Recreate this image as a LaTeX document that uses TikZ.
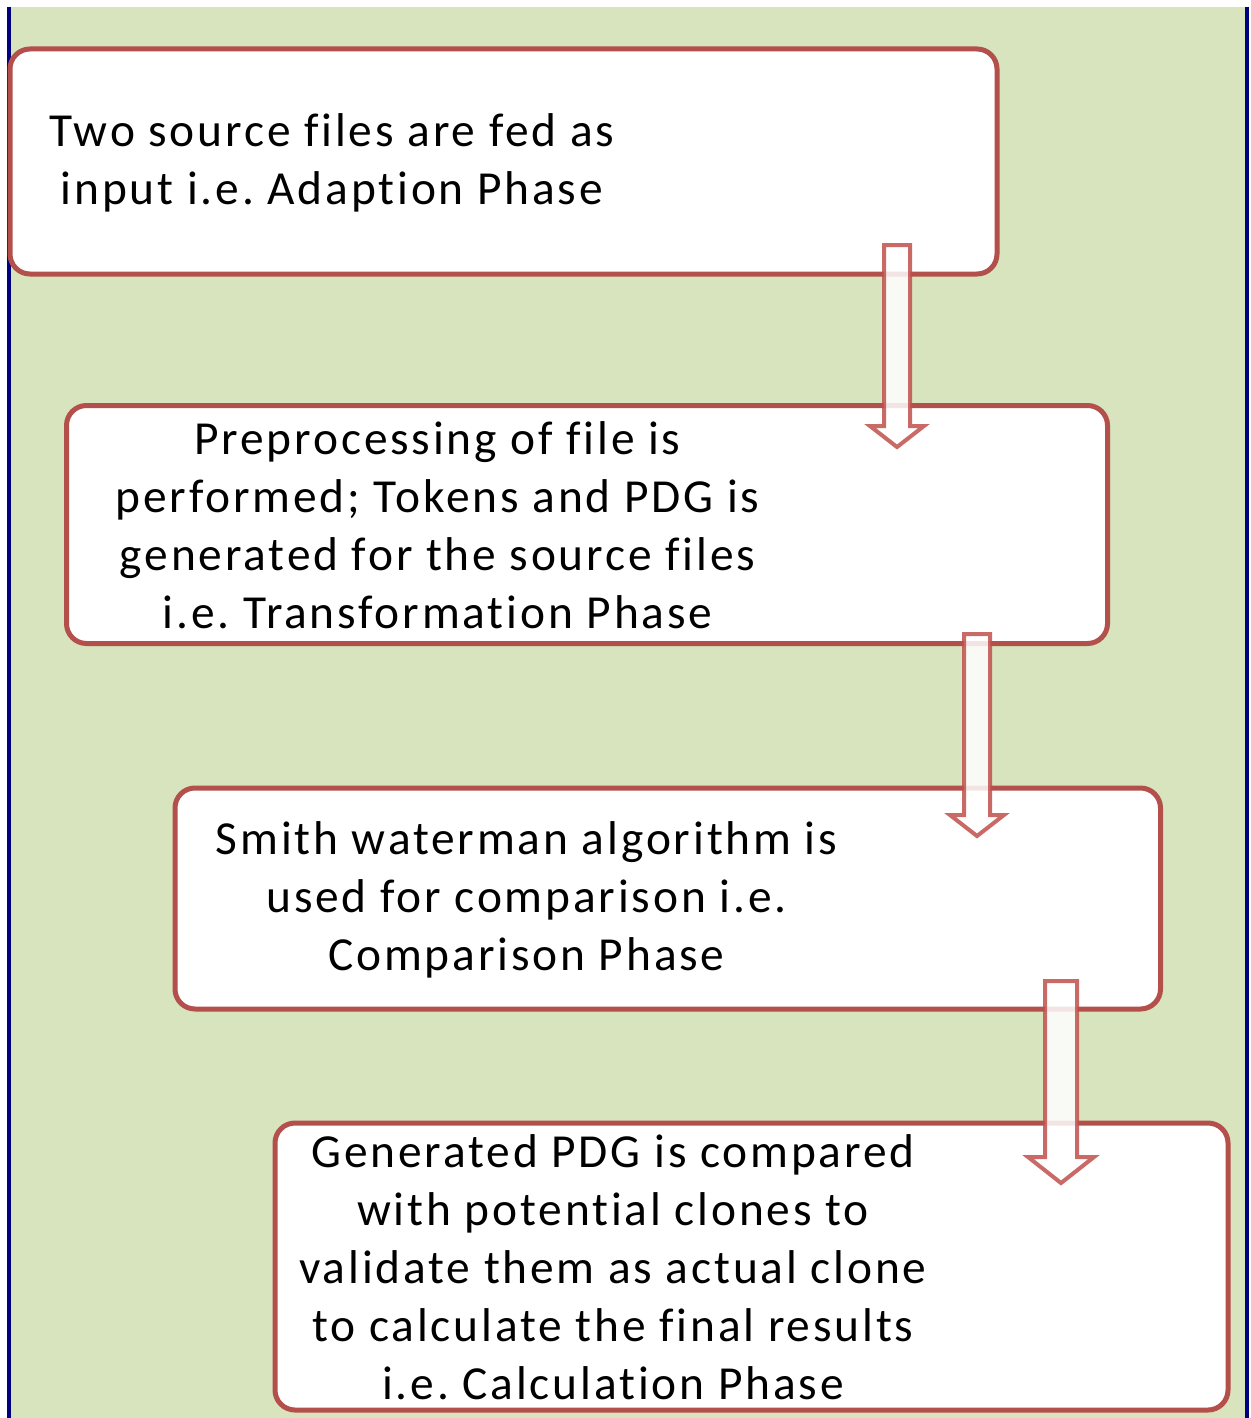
\documentclass[tikz,border=0pt]{standalone}
\usepackage{fontspec}
\setmainfont{Carlito}[LetterSpace=6,Ligatures=NoCommon]
\usetikzlibrary{positioning}

\definecolor{bggreen}{RGB}{215,228,189}
\definecolor{boxred}{RGB}{180,80,75}
\definecolor{arrowred}{RGB}{192,80,77}
\definecolor{edgeblue}{RGB}{0,0,128}

\tikzset{
phasebox/.style={rectangle,draw=boxred,line width=2.5pt,rounded corners=10pt,fill=white,inner sep=0pt},
phasetext/.style={align=center,inner sep=0pt,font=\fontsize{23.7}{29}\selectfont},
blockarrow/.style={draw=arrowred,draw opacity=0.85,fill=white,fill opacity=0.85,line width=2pt,line join=miter}
}

\begin{document}
\frenchspacing
\begin{tikzpicture}[x=0.5pt,y=-0.5pt]
\useasboundingbox (0,0) rectangle (1251,1418);

\fill[bggreen] (9,7) rectangle (1247,1418);

\draw[edgeblue,line width=2pt] (9,7) -- (9,1418);

\draw[edgeblue,line width=2pt] (1247,7) -- (1247,1418);

\node[phasebox,minimum width=493.5pt,minimum height=112.5pt] (B1) at (503.5,161.5) {};

\node[phasebox,minimum width=520.5pt,minimum height=119pt] (B2) at (587,524.5) {};

\node[phasebox,minimum width=492.75pt,minimum height=110.5pt] (B3) at (667.75,898.5) {};

\node[phasebox,minimum width=476.5pt,minimum height=143.5pt] (B4) at (751.5,1266.5) {};

\node[phasetext] (T1) at (332,163) {Two source files are fed as\\ input i.e. Adaption Phase};

\node[phasetext] (T2) at (437.5,525.5) {Preprocessing of file is\\performed; Tokens and PDG is\\generated for the source files\\i.e. Transformation Phase};

\node[phasetext] (T3) at (526.5,899.5) {Smith waterman algorithm is\\used for comparison i.e.\\Comparison Phase};

\node[phasetext] (T4) at (613,1267.5) {Generated PDG is compared\\with potential clones to\\validate them as actual clone\\to calculate the final results\\i.e. Calculation Phase};

\draw[blockarrow] (884,245) -- (910,245) -- (910,426) -- (924,426) -- (897,447) -- (870,426) -- (884,426) -- cycle;

\draw[blockarrow] (964,634) -- (990,634) -- (990,815) -- (1004,815) -- (977,836) -- (950,815) -- (964,815) -- cycle;

\draw[blockarrow] (1045,981) -- (1077,981) -- (1077,1157) -- (1094,1157) -- (1061,1183) -- (1028,1157) -- (1045,1157) -- cycle;

\end{tikzpicture}
\end{document}
